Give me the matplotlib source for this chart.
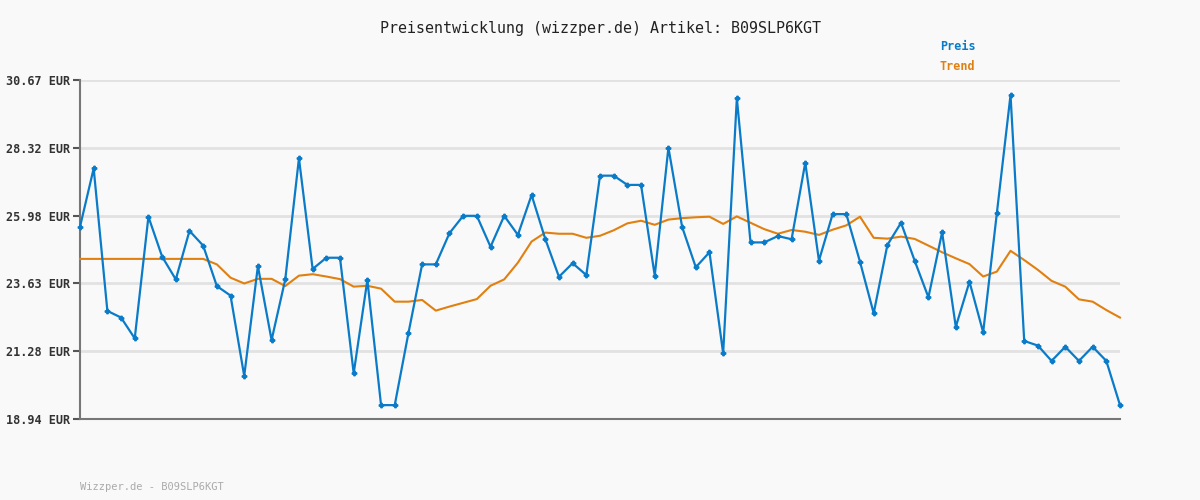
import matplotlib
matplotlib.use("Agg")
import matplotlib.pyplot as plt

# price series (77 points)
preis = [25.59, 27.61, 22.68, 22.45, 21.73, 25.94, 24.56, 23.77, 25.45, 24.94,
         23.54, 23.21, 20.43, 24.23, 21.67, 23.77, 27.96, 24.13, 24.52, 24.52,
         20.52, 23.75, 19.42, 19.42, 21.91, 24.29, 24.29, 25.37, 25.97, 25.97,
         24.90, 25.97, 25.31, 26.69, 25.17, 23.86, 24.33, 23.92, 27.36, 27.36,
         27.04, 27.04, 23.90, 28.33, 25.59, 24.19, 24.71, 21.21, 30.04, 25.05,
         25.05, 25.27, 25.16, 27.81, 24.42, 26.03, 26.03, 24.38, 22.60, 24.96,
         25.73, 24.41, 23.15, 25.40, 22.13, 23.69, 21.94, 26.06, 30.15, 21.64,
         21.48, 20.95, 21.44, 20.95, 21.44, 20.95, 19.42]
trend = [24.48] * 10 + [
    24.29, 23.83, 23.63, 23.79, 23.79, 23.54, 23.90, 23.95, 23.87, 23.78,
    23.52, 23.55, 23.45, 23.00, 23.00, 23.06, 22.69, 22.83, 22.96, 23.09,
    23.55, 23.77, 24.35, 25.08, 25.39, 25.35, 25.35, 25.21, 25.28, 25.47,
    25.71, 25.80, 25.66, 25.84, 25.89, 25.92, 25.94, 25.69, 25.95, 25.73,
    25.51, 25.35, 25.48, 25.42, 25.31, 25.49, 25.64, 25.94, 25.21, 25.18,
    25.25, 25.17, 24.94, 24.71, 24.50, 24.30, 23.87, 24.04, 24.76, 24.44,
    24.10, 23.72, 23.52, 23.08, 23.00, 22.71, 22.45]
yticks = [18.94, 21.28, 23.63, 25.98, 28.32, 30.67]
ytick_labels = [f"{v:.2f} EUR" for v in yticks]

BLUE = "#0a7bc8"
ORANGE = "#e08010"
BG = "#f9f9f9"
plt.rcParams["font.family"] = "DejaVu Sans Mono"

fig = plt.figure(figsize=(12, 5), dpi=100, facecolor=BG)
ax = fig.add_axes([80 / 1200, 81 / 500, 1040 / 1200, 339 / 500], facecolor=BG)

x = list(range(len(preis)))
ax.plot(x, trend, color=ORANGE, lw=1.5, clip_on=False, zorder=3)
ax.plot(x, preis, color=BLUE, lw=1.6, marker="P", ms=3.2, clip_on=False, zorder=4)

ax.set_xlim(0, len(preis) - 1)
ax.set_ylim(yticks[0], yticks[-1])
ax.set_yticks(yticks)
ax.set_yticklabels(ytick_labels, fontsize=8.5, fontweight="bold", color="#333333")
ax.set_xticks([])
ax.grid(axis="y", color="#e2e2e2", lw=2)
ax.set_axisbelow(True)
for s in ("top", "right"):
    ax.spines[s].set_visible(False)
for s in ("left", "bottom"):
    ax.spines[s].set_color("#777777")
    ax.spines[s].set_linewidth(1.5)
ax.tick_params(axis="y", length=5, width=1.5, color="#555555", pad=2)

fig.text(0.5, 1 - 28 / 500, "Preisentwicklung (wizzper.de) Artikel: B09SLP6KGT",
         ha="center", va="center", fontsize=10.8, color="#222222")
fig.text(940 / 1200, 1 - 47 / 500, "Preis", color=BLUE, fontsize=8.5, fontweight="bold", va="center")
fig.text(940 / 1200, 1 - 67 / 500, "Trend", color=ORANGE, fontsize=8.5, fontweight="bold", va="center")
fig.text(80 / 1200, 1 - 487 / 500, "Wizzper.de - B09SLP6KGT", color="#aaaaaa", fontsize=7.5, va="center")

fig.savefig("out.png", dpi=100, facecolor=BG)
